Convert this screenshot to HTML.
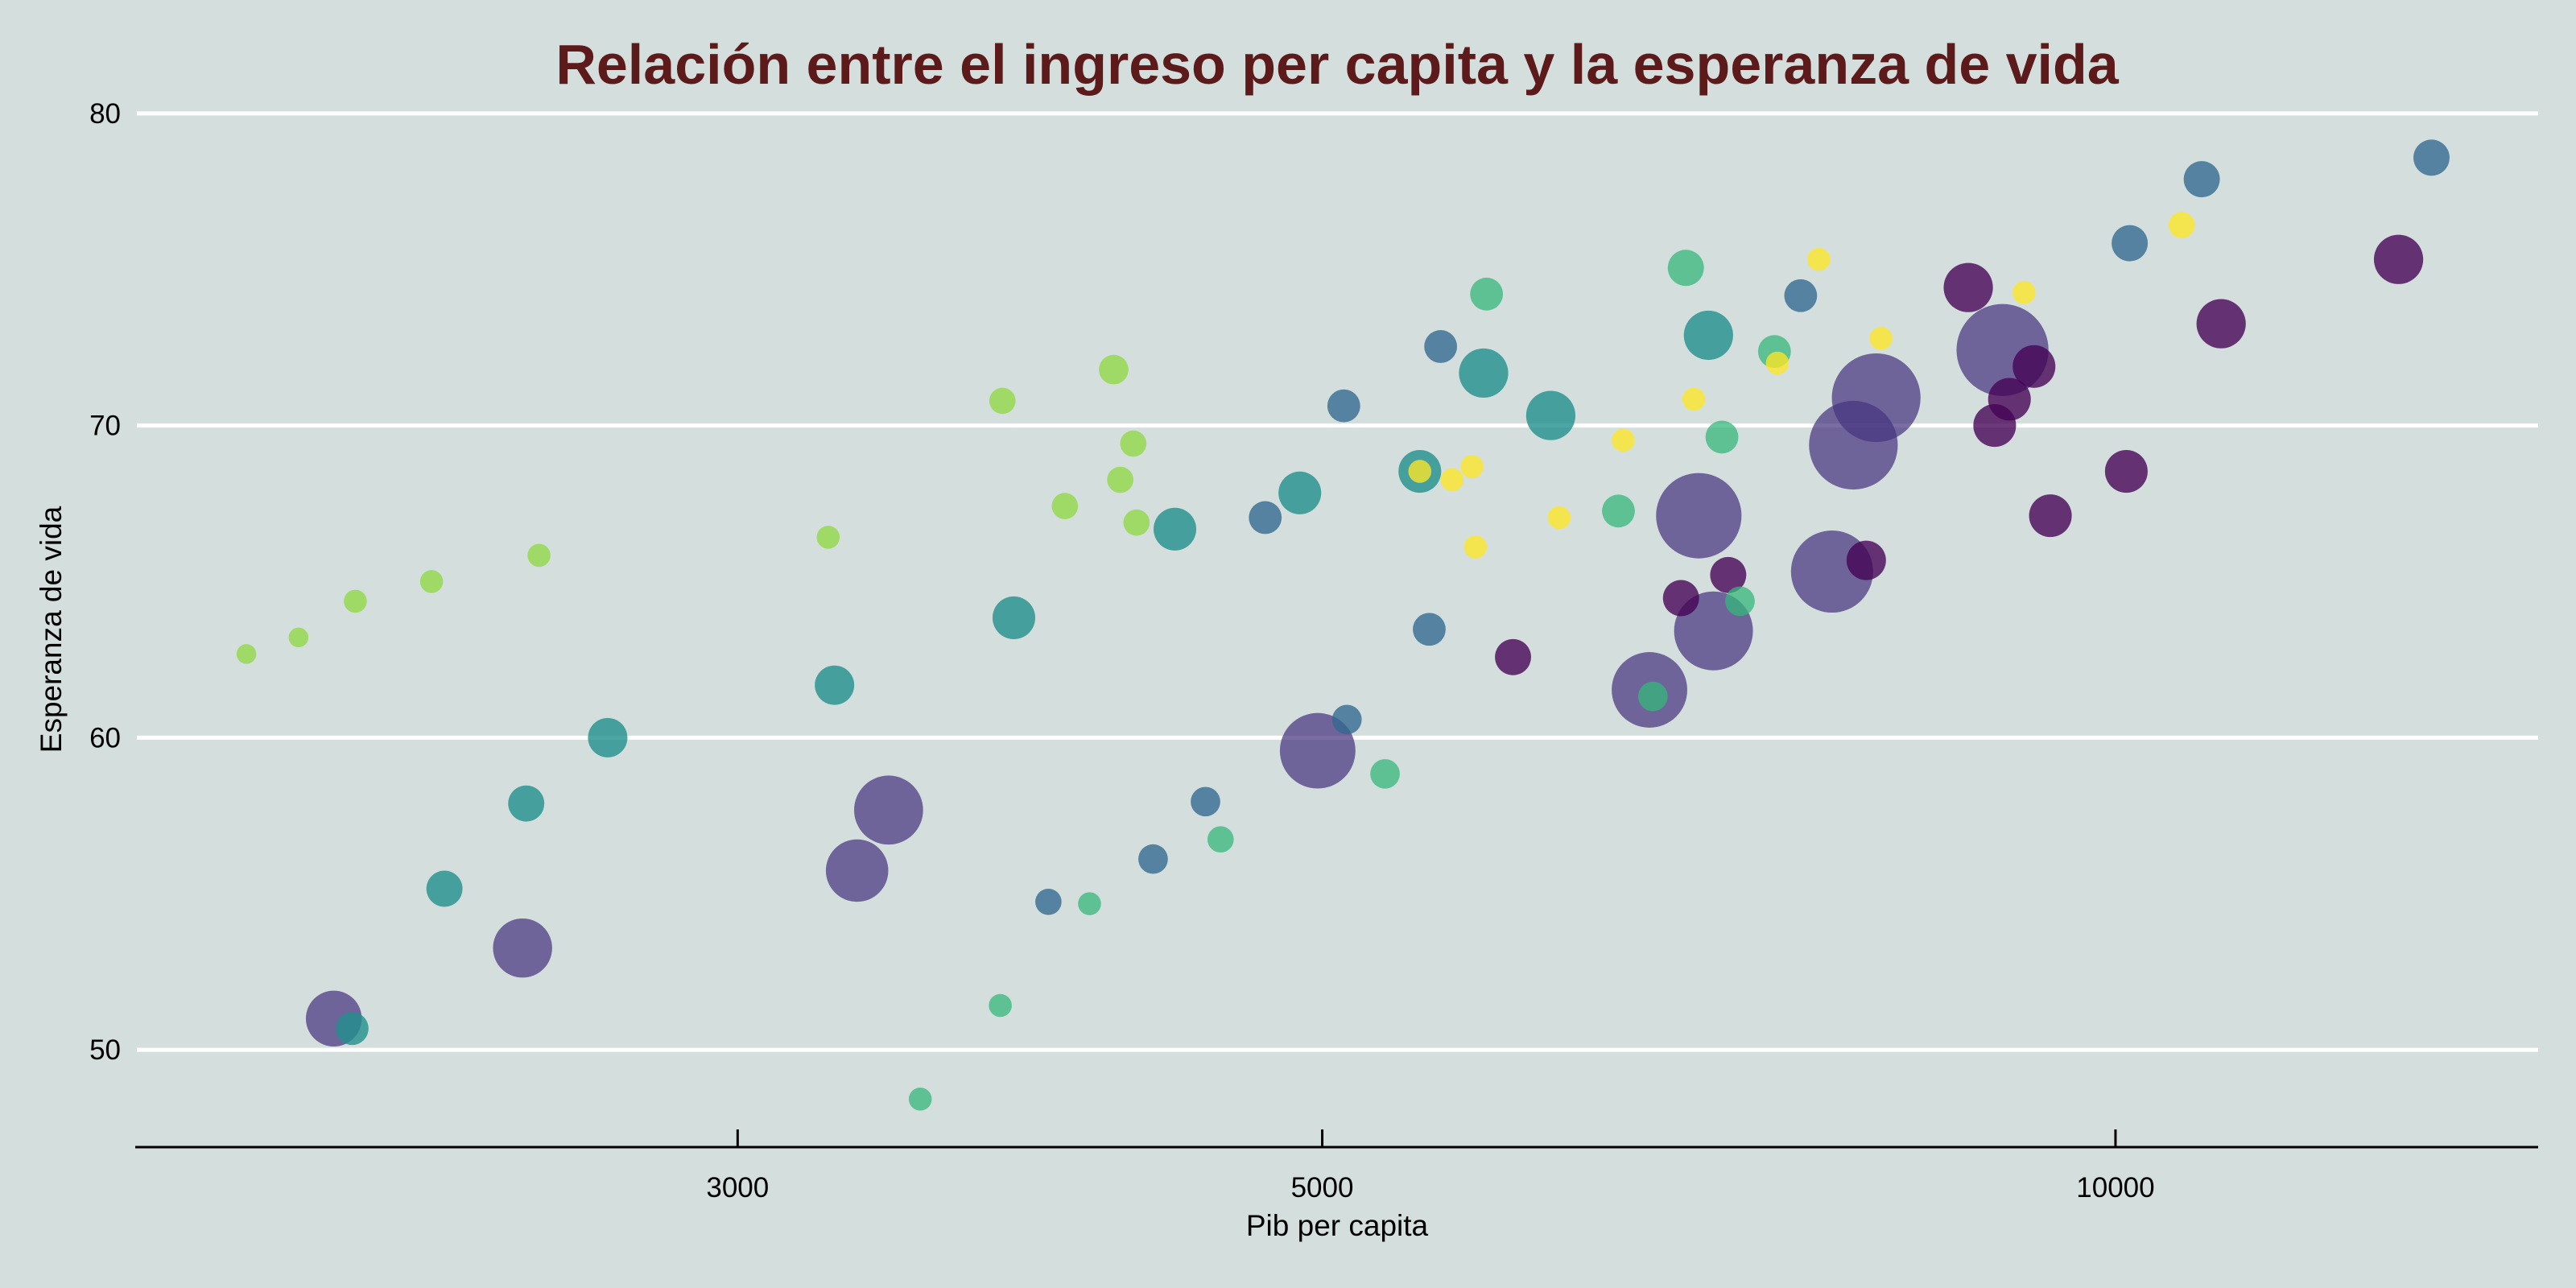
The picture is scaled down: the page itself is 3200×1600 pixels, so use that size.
<!DOCTYPE html>
<html><head><meta charset="utf-8"><style>
html,body{margin:0;padding:0;background:#d4dfdd;}
svg{display:block;font-family:"Liberation Sans",sans-serif;}
</style></head><body>
<svg id="chart" width="3200" height="1600" viewBox="0 0 3200 1600" xmlns="http://www.w3.org/2000/svg">
<rect width="3200" height="1600" fill="#d4dfdd"/>
<text x="1661" y="104" text-anchor="middle" font-size="70" font-weight="bold" fill="#5c1a1b">Relación entre el ingreso per capita y la esperanza de vida</text>
<g id="grid"></g>
<g id="points"></g>
<g id="axes"></g>
<text x="1661" y="1535" text-anchor="middle" font-size="37" fill="#000">Pib per capita</text>
<text transform="translate(76,782) rotate(-90)" text-anchor="middle" font-size="37" fill="#000">Esperanza de vida</text>
</svg>
<script>
const gdp = [1953,2044,2148,2296,2522,3247,3781,3993,4167,4191,4239,4251,
3519,3774,4080,4575,5282,5772,6477,6675,6870,7090,7203,7423,
5445,5601,5699,5716,6150,6504,6918,7442,7716,8147,9232,10596,
2142,2322,2494,2678,3265,3819,4396,4903,5445,5757,6105,7007,
3936,4313,4515,4757,5095,5109,5490,5545,7595,10125,10783,13180,
2108,2486,3330,3423,4980,6655,6948,7038,7806,7953,8113,9060,
5907,6841,7129,8043,8793,8998,9115,9313,9447,10095,10967,12806];
const life = [62.68,63.21,64.37,65.0,65.84,66.42,70.79,67.42,71.79,68.26,69.42,66.89,
48.42,51.42,54.68,56.74,58.84,74.21,67.26,61.32,75.05,69.63,64.37,72.37,
68.53,68.26,68.68,66.11,67.05,69.53,70.84,72.0,75.32,72.79,74.26,76.42,
50.68,55.16,57.89,60.0,61.68,63.84,66.68,67.84,68.53,71.68,70.32,72.89,
54.74,56.11,57.95,67.05,70.63,60.58,63.47,72.53,74.16,75.84,77.89,78.58,
51.0,53.26,55.74,57.68,59.58,61.53,67.11,63.42,65.32,69.37,70.89,72.42,
62.58,64.47,65.21,65.68,74.42,70.0,70.84,71.89,67.11,68.53,73.26,75.32];
const size = [6,6,7,7,7,7,8,8,9,8,8,8,
7,7,7,8,9,10,10,9,11,10,9,10,
7,7,7,7,7,7,7,7,7,7,7,8,
10,11,11,12,12,13,13,13,13,15,15,15,
8,9,9,10,10,9,10,10,10,11,11,11,
17,18,19,21,23,23,26,24,25,27,27,28,
11,11,11,12,15,13,13,13,13,13,15,15];
const group = [];
for (let g = 0; g < 7; g++) for (let k = 0; k < 12; k++) group.push(g);
const groupColors = ["rgba(143,215,68,0.78)","rgba(53,183,121,0.75)","rgba(253,231,37,0.78)","rgba(33,144,141,0.8)","rgba(49,104,142,0.78)","rgba(70,52,128,0.72)","rgba(68,1,84,0.78)"];
const yTicks = [50,60,70,80];
const xTicks = [3000,5000,10000];

const S = 3200/1568;
function xs(v){ return S*(449 + 1604*Math.log10(v/3000)); }
function ys(v){ return S*(69 + 19*(80 - v)); }
const NS = "http://www.w3.org/2000/svg";
const grid = document.getElementById('grid');
const axes = document.getElementById('axes');
const pts = document.getElementById('points');
yTicks.forEach(t => {
  const l = document.createElementNS(NS,'line');
  l.setAttribute('x1',170); l.setAttribute('x2',3153);
  l.setAttribute('y1',ys(t)); l.setAttribute('y2',ys(t));
  l.setAttribute('stroke','#fff'); l.setAttribute('stroke-width',5);
  
  
  grid.appendChild(l);
  const tx = document.createElementNS(NS,'text');
  tx.setAttribute('x',150); tx.setAttribute('y',ys(t)+12);
  tx.setAttribute('text-anchor','end'); tx.setAttribute('font-size',35);
  tx.textContent = t;
  
  
  axes.appendChild(tx);
});
const ax = document.createElementNS(NS,'line');
ax.setAttribute('x1',168); ax.setAttribute('x2',3153);
ax.setAttribute('y1',1425); ax.setAttribute('y2',1425);
ax.setAttribute('stroke','#000'); ax.setAttribute('stroke-width',3);


axes.appendChild(ax);
xTicks.forEach(t => {
  const l = document.createElementNS(NS,'line');
  l.setAttribute('x1',xs(t)); l.setAttribute('x2',xs(t));
  l.setAttribute('y1',1403); l.setAttribute('y2',1425);
  l.setAttribute('stroke','#000'); l.setAttribute('stroke-width',3);
  
  
  axes.appendChild(l);
  const tx = document.createElementNS(NS,'text');
  tx.setAttribute('x',xs(t)); tx.setAttribute('y',1487);
  tx.setAttribute('text-anchor','middle'); tx.setAttribute('font-size',35);
  tx.textContent = t;
  
  
  axes.appendChild(tx);
});
const order = gdp.map((_,i)=>i).sort((a,b)=>size[b]-size[a]);
order.forEach(i => {
  const c = document.createElementNS(NS,'circle');
  c.setAttribute('cx',xs(gdp[i])); c.setAttribute('cy',ys(life[i]));
  c.setAttribute('r',size[i]*S);
  c.setAttribute('fill',groupColors[group[i]]);
  
  
  pts.appendChild(c);
});
</script>
</body></html>
